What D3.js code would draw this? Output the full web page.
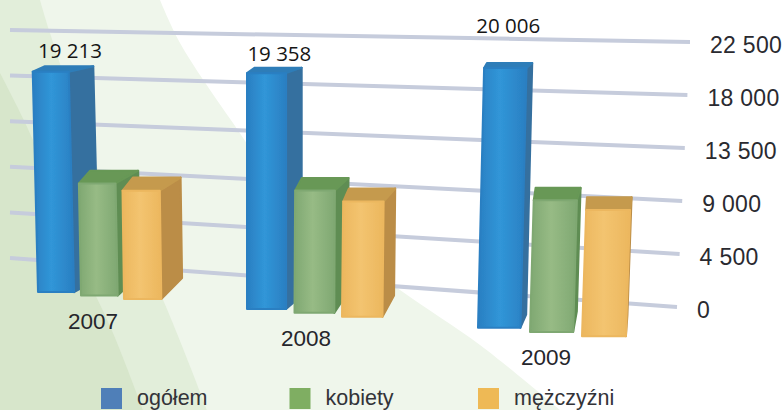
<!DOCTYPE html>
<html><head><meta charset="utf-8">
<style>html,body{margin:0;padding:0;background:#fff}svg{display:block}</style>
<script src="https://cdn.jsdelivr.net/npm/d3@7"></script></head>
<body><svg id="c" width="784" height="410"></svg>
<script>
const years = ["2007", "2008", "2009"];
const seriesNames = ["ogółem", "kobiety", "mężczyźni"];
const ogolem = [19213, 19358, 20006];
const kobiety = [9650, 9900, 10000];
const mezczyzni = [9213, 9200, 9450];
const seriesValues = [ogolem, kobiety, mezczyzni];
const ticks = [0, 4500, 9000, 13500, 18000, 22500];
const valueLabels = ["19 213", "19 358", "20 006"];
const tickFormat = v => d3.format(",")(v).replace(/,/g, " ");

const svg = d3.select("#c");
const defs = svg.append("defs");
defs.append("filter").attr("id","soft").append("feGaussianBlur").attr("stdDeviation",0.6);

const palette = [
  {legend:"#4f7fb8", edge:"#2b7fc2", mid:"#3096d8", side:"#36709f", top:"#2f7db8"},
  {legend:"#7fae62", edge:"#7fa872", mid:"#97bb85", side:"#5f8d53", top:"#679856"},
  {legend:"#eeb955", edge:"#ecb75e", mid:"#f3c470", side:"#bb8d47", top:"#c59a4e"}
];
palette.forEach((p,i)=>{
  const g = defs.append("linearGradient").attr("id","f"+i);
  g.append("stop").attr("offset","0").attr("stop-color",p.edge);
  g.append("stop").attr("offset","0.45").attr("stop-color",p.mid);
  g.append("stop").attr("offset","1").attr("stop-color",p.edge);
});

// background sweeps
const bgLine = d3.line().curve(d3.curveCatmullRom);
const sweeps = [
  {fill:"#eff6eb", edge:[[160,0],[180,43],[233,123],[300,215],[400,290],[480,345],[560,410]]},
  {fill:"#e2eeda", edge:[[40,0],[50,33],[97,167],[160,293],[207,410]]},
  {fill:"#d7e6cb", edge:[[0,73],[33,140],[70,240],[113,333],[143,410]]}
];
sweeps.forEach(s=>{
  const start = s.edge[0][0]===0 ? "" : "M0,0L"+s.edge[0].join(",");
  const body = bgLine(s.edge);
  svg.append("path").attr("fill",s.fill)
     .attr("d",(start? start+"L":"") + (start? body.slice(1): body) + "L0,410Z");
});

// perspective scales
const v0 = [0,22500];
const gridLeftY = d3.scaleLinear().domain(v0).range([258,30]);
const gridRightY = d3.scaleLinear().domain(v0).range([307,42]);
const gridRightX = d3.scaleLinear().domain(v0).range([677,690]);
const gridLeftX = 10;

const gridG = svg.append("g").attr("filter","url(#soft)");
gridG.selectAll("line").data(ticks).join("line")
  .attr("x1",gridLeftX).attr("y1",gridLeftY)
  .attr("x2",gridRightX).attr("y2",gridRightY)
  .attr("stroke","#c6ccdc").attr("stroke-width",4);

const xYearMid = y => [38,247,478][y];
const xSpread = d3.scaleLinear().domain([0,2]).range([86,104]);
const xSeries = d3.scaleLinear().domain([0,2]).range([0,1]);
const baseY = d3.scaleLinear().domain([0,784]).range([289,352.5]);
const fullH = d3.scaleLinear().domain([38,478]).range([258,292]);
const tilt = d3.scaleLinear().domain([0,19000]).range([0,0.025]);
const depthX = d3.scaleLinear().domain([33,586]).range([24.5,1.5]);
const depthY = d3.scaleLinear().domain([20000,10000]).range([5,12.5]);
const faceW = d3.scaleLinear().domain([33,586]).range([36,44]);

const barsG = svg.append("g").attr("filter","url(#soft)");
const rows = [];
years.forEach((yr,y)=>seriesValues.forEach((vals,s)=>{
  const xb = xYearMid(y) + xSeries(s)*xSpread(y);
  const v = vals[y];
  const yb = baseY(xb);
  const yt = yb - fullH(xb)*v/22500;
  const xt = xb + (xb-247)*tilt(v);
  const w = faceW(xb);
  const dx = depthX(xt), dy = depthY(v);
  rows.push({y,s,xb,yb,yt,xt,w,dx,dy,v});
}));
const pts = a => a.map(p=>p.join(",")).join(" ");
const g = barsG.selectAll("g").data(rows).join("g");
// side
g.append("polygon").attr("fill",d=>palette[d.s].side).attr("stroke",d=>palette[d.s].side)
  .attr("stroke-linejoin","round").attr("stroke-width",2)
  .attr("points",d=>pts([[d.xt+d.w,d.yt],[d.xt+d.w+d.dx,d.yt-d.dy],[d.xb+d.w+d.dx,d.yb-d.dy-8],[d.xb+d.w,d.yb]]));
// top
g.append("polygon").attr("fill",d=>palette[d.s].top).attr("stroke",d=>palette[d.s].top)
  .attr("stroke-linejoin","round").attr("stroke-width",2)
  .attr("points",d=>pts([[d.xt,d.yt],[d.xt+d.dx*0.5,d.yt-d.dy],[d.xt+d.w+d.dx,d.yt-d.dy],[d.xt+d.w,d.yt]]));
// front
g.append("polygon").attr("fill",d=>`url(#f${d.s})`).attr("stroke",d=>palette[d.s].edge)
  .attr("stroke-linejoin","round").attr("stroke-width",2)
  .attr("points",d=>pts([[d.xt,d.yt],[d.xt+d.w,d.yt],[d.xb+d.w,d.yb],[d.xb,d.yb]]));

// value labels
const lift = [14,12,35], nudge = [7,5,0];
svg.append("g").selectAll("text").data(rows.filter(d=>d.s===0)).join("text")
  .attr("x",d=>d.xt+(d.w+d.dx)/2+nudge[d.y]).attr("y",d=>d.yt-lift[d.y])
  .attr("text-anchor","middle").attr("font-family","Open Sans").attr("font-size",20.5)
  .attr("fill","#151515").text(d=>valueLabels[d.y]);

// year labels
const yearLabelY = [329,346,365];
const yearCx = [93,306,546];
svg.append("g").selectAll("text").data(years).join("text")
  .attr("x",(d,i)=>yearCx[i]).attr("y",(d,i)=>yearLabelY[i])
  .attr("text-anchor","middle").attr("font-family","Liberation Sans").attr("font-size",22.5)
  .attr("fill","#26262c").text(d=>d);

// axis labels
svg.append("g").selectAll("text").data(ticks).join("text")
  .attr("x",d=>gridRightX(d)+20).attr("y",d=>gridRightY(d)+10.5)
  .attr("font-family","Liberation Sans").attr("font-size",23).attr("letter-spacing",0.3)
  .attr("fill","#2a2a30").text(tickFormat);

// legend
const legendX = d3.scalePoint().domain(seriesNames).range([101,478]);
const lg = svg.append("g").selectAll("g").data(seriesNames).join("g")
  .attr("transform",d=>`translate(${legendX(d)},388)`);
lg.append("rect").attr("width",21).attr("height",21).attr("fill",(d,i)=>palette[i].legend);
lg.append("text").attr("x",36).attr("y",17).attr("font-family","Liberation Sans").attr("font-size",21.5)
  .attr("fill","#333338").text(d=>d);
</script></body></html>
